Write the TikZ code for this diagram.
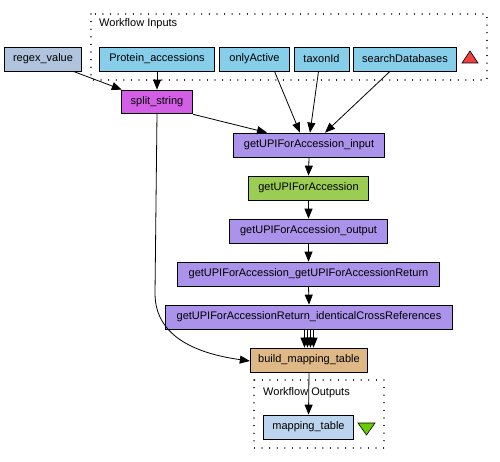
\documentclass[tikz,border=0pt]{standalone}
\usepackage{fontspec}
\setmainfont{Liberation Sans}
\usetikzlibrary{arrows.meta,calc}
\definecolor{cRegex}{HTML}{B0C4DE}
\definecolor{cInput}{HTML}{87CEEB}
\definecolor{cSplit}{HTML}{D35FE6}
\definecolor{cProc}{HTML}{AB93EB}
\definecolor{cWsdl}{HTML}{9ACD52}
\definecolor{cBuild}{HTML}{DEB887}
\definecolor{cOut}{HTML}{BCD4EE}
\definecolor{cRed}{HTML}{F04040}
\definecolor{cGreen}{HTML}{66CC00}
\tikzset{
  box/.style={draw=black, line width=0.8bp, inner sep=0pt, font=\fontsize{11bp}{13bp}\selectfont, anchor=center},
  edge/.style={line width=0.8bp, -{Triangle[length=10bp,width=8bp]}},
  cluster/.style={line width=1.1bp, dash pattern=on 0.1bp off 7.5bp, line cap=round},
  lbl/.style={font=\fontsize{11bp}{13bp}\selectfont, inner sep=0pt, anchor=west},
}
\newcommand{\boxnode}[7]{% name, x1, y1, x2, y2, color, text
  \node[box, fill=#6, minimum width={#4-#2}, minimum height={#5-#3}] (#1) at ({(#2+#4)/2},{(#3+#5)/2}) {#7};}
\begin{document}
\begin{tikzpicture}[x=1bp,y=-1bp]
\useasboundingbox (0,0) rectangle (500,462);
% clusters
\draw[cluster] (91,14) rectangle (487,80);
\node[lbl] (inlbl) at (99,24) {Workflow Inputs};
\draw[cluster] (254,380) rectangle (384,448);
\node[lbl] (outlbl) at (263,393) {Workflow Outputs};
% nodes
\boxnode{regex}{4}{47}{82}{71}{cRegex}{regex\_value}
\boxnode{prot}{99}{47}{215}{71}{cInput}{Protein\_accessions}
\boxnode{only}{219}{47}{290}{71}{cInput}{onlyActive}
\boxnode{taxon}{294}{47}{349}{71}{cInput}{taxonId}
\boxnode{search}{353}{47}{457}{71}{cInput}{searchDatabases}
\boxnode{split}{121}{90}{193}{113}{cSplit}{split\_string}
\boxnode{inp}{233}{133}{385}{157}{cProc}{getUPIForAccession\_input}
\boxnode{wsdl}{248}{176}{369}{200}{cWsdl}{getUPIForAccession}
\boxnode{outp}{229}{219}{388}{243}{cProc}{getUPIForAccession\_output}
\boxnode{ret}{177}{262}{440}{286}{cProc}{getUPIForAccession\_getUPIForAccessionReturn}
\boxnode{ident}{165}{305}{453}{329}{cProc}{getUPIForAccessionReturn\_identicalCrossReferences}
\boxnode{build}{250}{348}{368}{372}{cBuild}{build\_mapping\_table}
\boxnode{map}{263}{415}{354}{439}{cOut}{mapping\_table}
% port triangles
\draw[fill=cRed, line width=0.6bp] (462,63) -- (478,63) -- (470,51) -- cycle;
\draw[fill=cGreen, line width=0.6bp] (358,423) -- (375,423) -- (366.5,435) -- cycle;
% edges
\draw[edge] ([xshift=-9bp]regex.south east) -- ([xshift=1bp]split.north west);
\draw[edge] (prot.south) -- (split.north);
\draw[edge] ([yshift=-1bp]split.south east) -- ([xshift=-42bp]inp.north);
\draw[edge] ([xshift=20bp]only.south) -- ([xshift=-9bp]inp.north);
\draw[edge] ([xshift=-3bp]taxon.south) -- ([xshift=1bp]inp.north);
\draw[edge] ([xshift=-15bp]search.south) -- ([xshift=16bp]inp.north);
\draw[edge] (inp.south) -- (wsdl.north);
\draw[edge] (wsdl.south) -- (outp.north);
\draw[edge] (outp.south) -- (ret.north);
\draw[edge] (ret.south) -- (ident.north);
\foreach \dx in {-4.5,-1.5,1.5,4.5}
  \draw[edge] ([xshift=\dx bp]ident.south) -- ([xshift=\dx bp]build.north);
\draw[edge] (split.south) -- ++(-2,180) .. controls +(0,45) and ($(build.west)+(-50,-6)$) .. ([yshift=-1bp]build.west);
\draw[edge] (build.south) -- (map.north);
\end{tikzpicture}
\end{document}
